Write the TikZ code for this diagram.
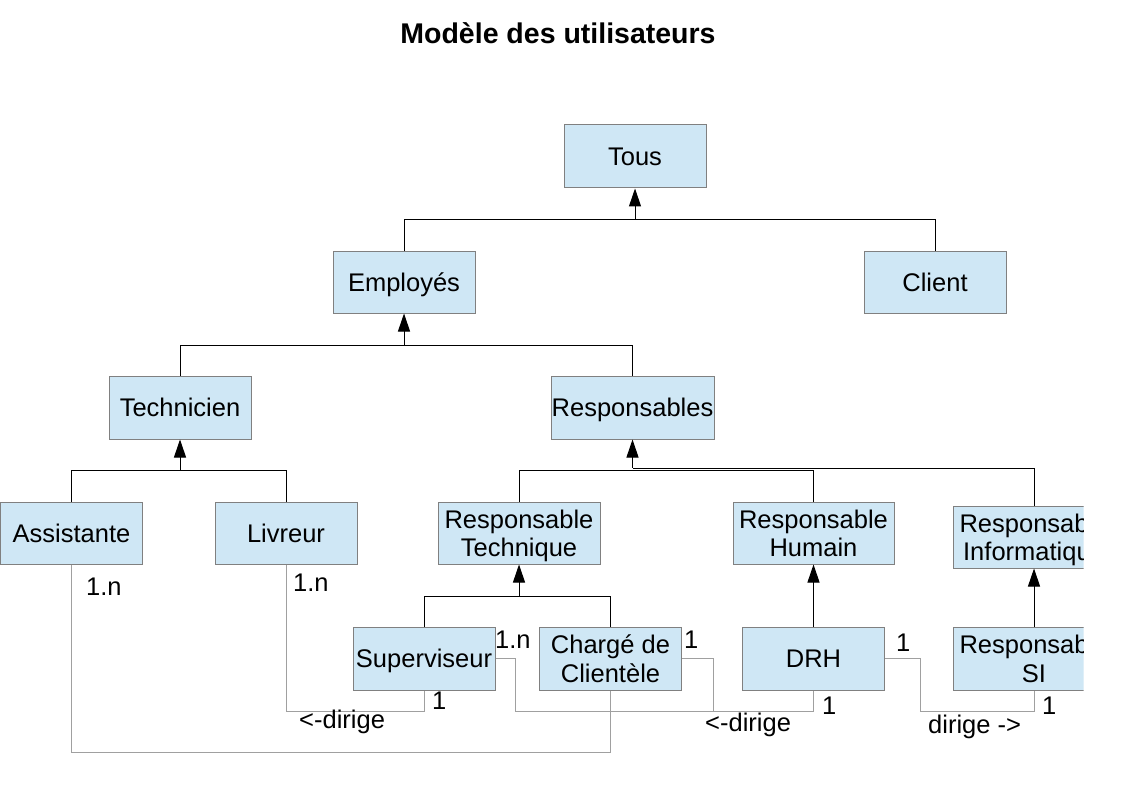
\documentclass[tikz,border=0pt]{standalone}
\usepackage{fontspec}
\setmainfont{Liberation Sans}
\usetikzlibrary{arrows.meta}
\definecolor{boxfill}{HTML}{CFE7F5}
\definecolor{boxline}{HTML}{808080}
\definecolor{relline}{HTML}{A0A0A0}
\begin{document}
\begin{tikzpicture}[x=1pt,y=-1pt,
  cls/.style={draw=boxline, fill=boxfill, line width=1pt, minimum width=142pt, minimum height=63pt, inner sep=0pt, align=center, font=\fontsize{25.5}{28.5}\selectfont, text height=18.5pt, text depth=0pt},
  two/.style={text height=47pt},
  inh/.style={line width=1pt, -{Triangle[length=18pt,width=12pt]}},
  hline/.style={line width=1pt},
  rel/.style={draw=relline, line width=1pt},
  lbl/.style={anchor=base west, inner sep=0pt, font=\fontsize{25.5}{29}\selectfont}]
\useasboundingbox (0,0) rectangle (1123,794);
\fill[white] (0,0) rectangle (1123,794);

\node[anchor=base, inner sep=0pt, font=\bfseries\fontsize{28.5}{34}\selectfont] (title) at (558,44) {Modèle des utilisateurs};

% classes
\node[cls] (tous) at (635,156.5) {Tous};
\node[cls, minimum height=62pt] (emp) at (404,282) {Employés};
\node[cls, minimum height=62pt] (client) at (935,282) {Client};
\node[cls] (tech) at (180,407.5) {Technicien};
\node[cls, minimum width=163pt] (resp) at (632.5,407.5) {Responsables};
\node[cls, minimum height=62pt] (assist) at (71.5,533) {Assistante};
\node[cls, minimum height=62pt] (livreur) at (286,533) {Livreur};
\node[cls, two, minimum width=162pt, minimum height=62pt] (rtech) at (519,533) {Responsable\\Technique};
\node[cls, two, minimum width=161pt, minimum height=62pt] (rhum) at (813.5,533) {Responsable\\Humain};
\node[cls] (sup) at (424,658.5) {Superviseur};
\node[cls, two] (charge) at (610.5,658.5) {Chargé de\\Clientèle};
\node[cls] (drh) at (813.5,658.5) {DRH};
\begin{scope}
  \clip (0,0) rectangle (1083.5,794);
  \node[cls, two, minimum width=162pt, minimum height=62pt] (rinfo) at (1034,537) {Responsable\\Informatique};
  \node[cls, two, minimum width=162pt] (rsi) at (1034,658.5) {Responsable\\SI};
\end{scope}

% inheritance
\coordinate (jt) at (635,220);
\draw[hline] (emp.north) |- (jt);
\draw[hline] (client.north) |- (jt);
\draw[inh] (jt) -- (tous.south);

\coordinate (je) at (404,345);
\draw[hline] (tech.north) |- (je);
\draw[hline] (resp.north) |- (je);
\draw[inh] (je) -- (emp.south);

\coordinate (jtc) at (180,470);
\draw[hline] (assist.north) |- (jtc);
\draw[hline] (livreur.north) |- (jtc);
\draw[inh] (jtc) -- (tech.south);

\coordinate (jr1) at (632.5,470);
\coordinate (jr2) at (632.5,468);
\draw[hline] (rtech.north) |- (jr1);
\draw[hline] (rhum.north) |- (jr1);
\draw[hline] (rinfo.north) |- (jr2);
\draw[inh] (jr2) -- (resp.south);

\coordinate (jrt) at (519,596);
\draw[hline] (sup.north) |- (jrt);
\draw[hline] (charge.north) |- (jrt);
\draw[inh] (jrt) -- (rtech.south);

\draw[inh] (drh.north) -- (rhum.south);
\draw[inh] (rsi.north) -- (rinfo.south);

% associations
\draw[rel] (assist.south) -- (assist.south |- 0,752) -| (charge.south);
\draw[rel] (livreur.south) -- (livreur.south |- 0,711) -| (sup.south);
\draw[rel] (sup.east) -| (515,711) -| (drh.south);
\draw[rel] (charge.east) -| (713,711) -| (drh.south);
\draw[rel] (drh.east) -| (920,711) -| (rsi.south);

% labels
\node[lbl] (l1) at (86,595) {1.n};
\node[lbl] (l2) at (293,591) {1.n};
\node[lbl] (l3) at (432,709) {1};
\node[lbl] (l4) at (299,728) {<-dirige};
\node[lbl] (l5) at (495,648) {1.n};
\node[lbl] (l6) at (684,648) {1};
\node[lbl] (l7) at (822,714) {1};
\node[lbl] (l8) at (705,731) {<-dirige};
\node[lbl] (l9) at (896,651) {1};
\node[lbl] (l10) at (1042,714) {1};
\node[lbl] (l11) at (928,733) {dirige ->};
\end{tikzpicture}
\end{document}
